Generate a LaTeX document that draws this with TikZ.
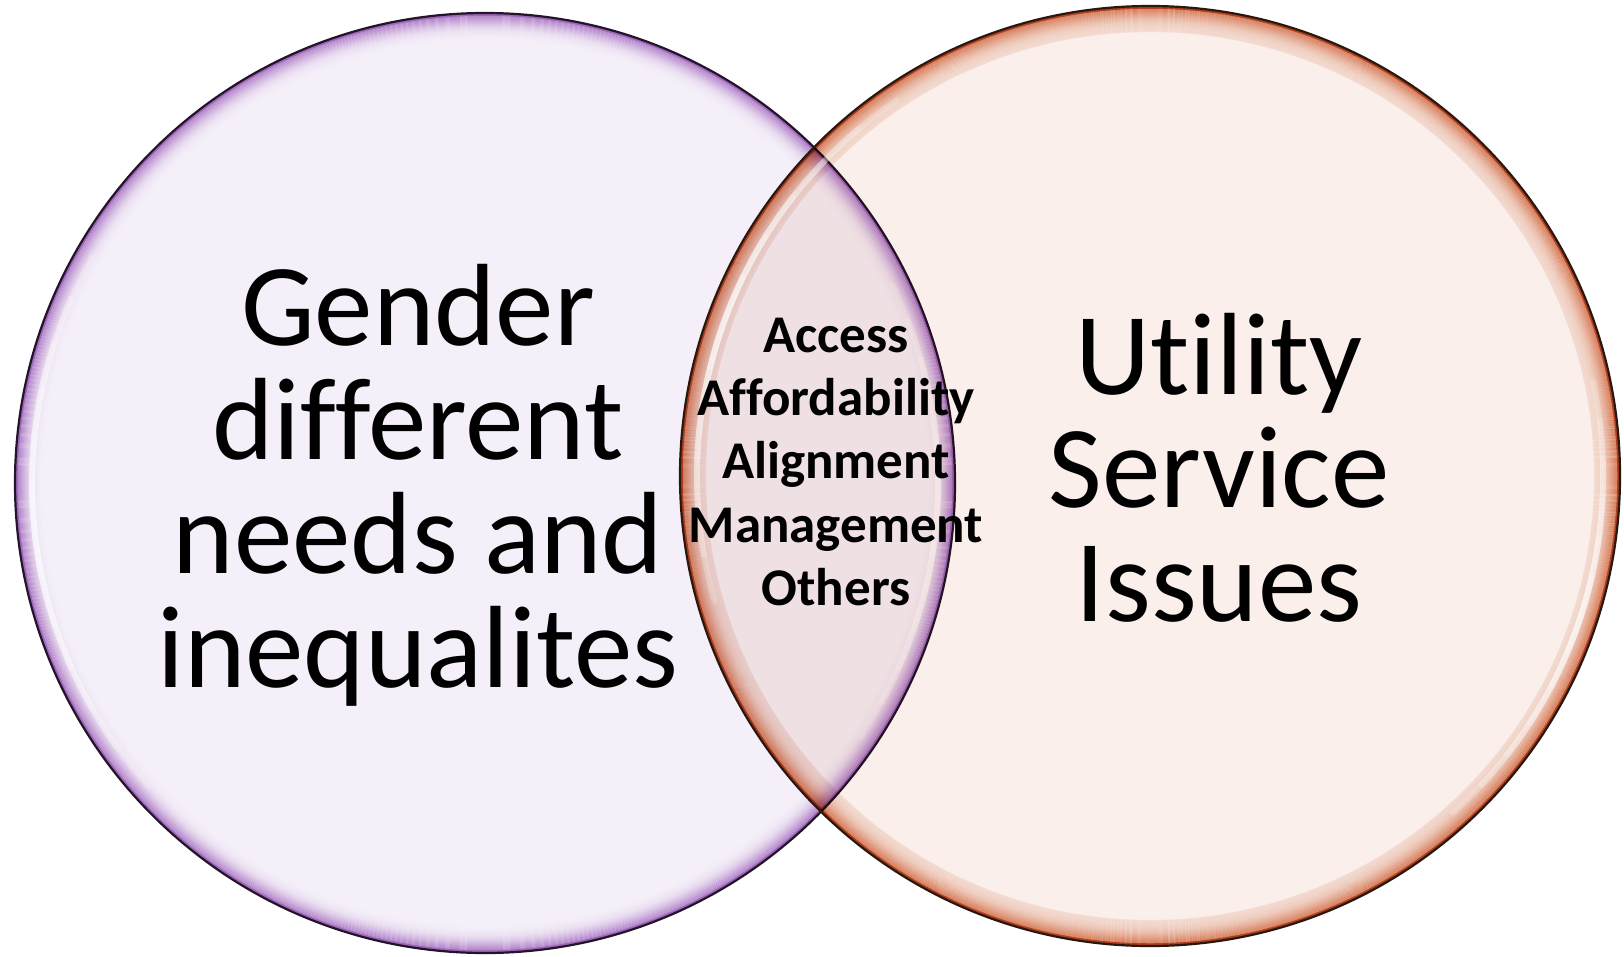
\documentclass[tikz,border=0pt]{standalone}
\usepackage{fontspec}
\setmainfont{Carlito}[Ligatures=NoCommon]

% circle colours
\definecolor{lavfill}{HTML}{F4EFF8}
\definecolor{lavrim}{HTML}{B282CA}
\definecolor{lavedge}{HTML}{9C68B8}
\definecolor{lavline}{HTML}{24142A}
\definecolor{pchfill}{HTML}{FAEFEA}
\definecolor{pchrim}{HTML}{E49A78}
\definecolor{pchedge}{HTML}{D07E58}
\definecolor{pchline}{HTML}{2A180E}

\tikzset{
  bigtext/.style={anchor=base, inner sep=0pt, font=\fontsize{117}{117}\selectfont},
  midtext/.style={anchor=base, inner sep=0pt, font=\fontsize{53}{53}\selectfont\bfseries},
  shine/.style={draw=white, line width=6pt, opacity=0.2, line cap=round},
  ring/.style={line width=1.15pt},
}

% fading colour band just inside the outline: depth / percent of rim colour
\newcommand\rimprofile{1/100,2/100,3/96,4/92,5/87,6/81,7/74,8/67,9/60,10/53,11/47,
  12/41,13/35,14/30,15/25,16/21,17/17,18/14,19/11,20/9,21/7,22/5,23/4,24/3,25/2,26/1}

\begin{document}
\begin{tikzpicture}[x=1pt, y=-1pt]
\useasboundingbox (0,0) rectangle (1624,956);

\coordinate (L) at (485,483);
\coordinate (R) at (1150,476);

% left circle
\fill[lavfill] (L) circle[radius=470pt];
\foreach \d/\p in \rimprofile{
  \draw[ring, lavrim!\p!lavfill] (L) circle[radius=470.5pt-\d pt];
}
\draw[lavedge, line width=2.5pt] (L) circle[radius=468.5pt];
\foreach \k in {1,...,6}{
  \draw[shine] (L) ++(186-6*\k:453pt) arc[start angle=186-6*\k, end angle=186+6*\k, radius=453pt];
  \draw[shine] (L) ++(-4-5*\k:453pt) arc[start angle=-4-5*\k, end angle=-4+5*\k, radius=453pt];
}
\draw[lavline, line width=2.2pt] (L) circle[radius=470pt];

% right circle, multiplied over the left one
\begin{scope}[blend mode=multiply]
\fill[pchfill] (R) circle[radius=470pt];
\foreach \d/\p in \rimprofile{
  \draw[ring, pchrim!\p!pchfill] (R) circle[radius=470.5pt-\d pt];
}
\draw[pchedge, line width=2.5pt] (R) circle[radius=468.5pt];
\end{scope}
\foreach \k in {1,...,6}{
  \draw[shine] (R) ++(160-6*\k:453pt) arc[start angle=160-6*\k, end angle=160+6*\k, radius=453pt];
  \draw[shine] (R) ++(-18-5*\k:453pt) arc[start angle=-18-5*\k, end angle=-18+5*\k, radius=453pt];
}
\draw[pchline, line width=2.2pt] (R) circle[radius=470pt];

% left label
\node[bigtext] (g1) at (418,345) {Gender};
\node[bigtext] (g2) at (418,459) {different};
\node[bigtext] (g3) at (418,573) {needs and};
\node[bigtext] (g4) at (418,687) {inequalites};

% right label
\node[bigtext] (u1) at (1219,394) {Utility};
\node[bigtext] (u2) at (1219,507) {Service};
\node[bigtext] (u3) at (1219,621) {Issues};

% shared issues in the overlap
\node[midtext] (m1) at (836,352) {Access};
\node[midtext] (m2) at (836,415) {Affordability};
\node[midtext] (m3) at (836,478) {Alignment};
\node[midtext] (m4) at (836,542) {Management};
\node[midtext] (m5) at (836,605) {Others};
\end{tikzpicture}
\end{document}
